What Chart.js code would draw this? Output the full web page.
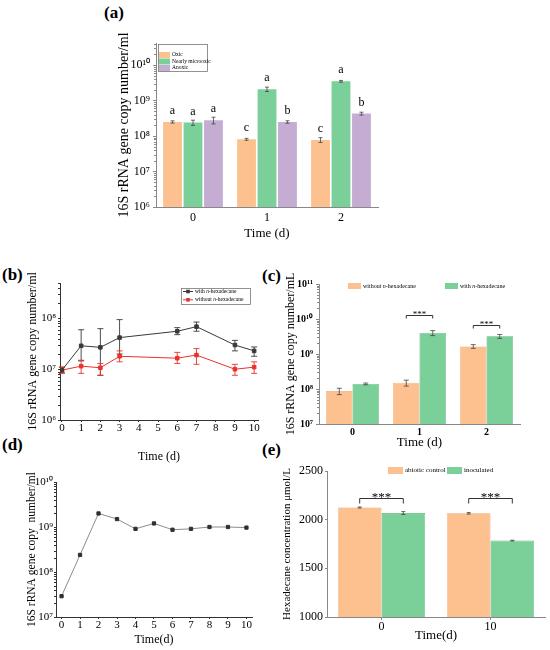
<!DOCTYPE html>
<html>
<head>
<meta charset="utf-8">
<script src="https://cdn.jsdelivr.net/npm/chart.js@4.4.1/dist/chart.umd.min.js"></script>
<style>
  body { margin: 0; background: #fff; width: 550px; height: 650px; position: relative; overflow: hidden; }
  canvas { position: absolute; }
  .lab { position: absolute; font: bold 17px 'Liberation Serif', 'Times New Roman', serif; line-height: 1; }
</style>
</head>
<body>
<div class="lab" style="left:104px;top:4px">(a)</div>
<div class="lab" style="left:2px;top:266px">(b)</div>
<div class="lab" style="left:262px;top:267px">(c)</div>
<div class="lab" style="left:2px;top:436px">(d)</div>
<div class="lab" style="left:262px;top:441px">(e)</div>

<canvas id="ca" width="300" height="220" style="left:90px;top:30px"></canvas>
<canvas id="cb" width="275" height="200" style="left:0px;top:265px"></canvas>
<canvas id="cc" width="288" height="200" style="left:262px;top:265px"></canvas>
<canvas id="cd" width="270" height="185" style="left:0px;top:465px"></canvas>
<canvas id="ce" width="288" height="190" style="left:262px;top:460px"></canvas>

<script>
// (a) 16S copies under three oxygen conditions
var aDays     = ["0", "1", "2"];
var aOxic     = [2.5e8, 8.1e7, 7.8e7];
var aOxicErr  = [1.8e7, 5e6, 1.2e7];
var aNear     = [2.4e8, 2.1e9, 3.5e9];
var aNearErr  = [4e7, 3e8, 2e8];
var aAnox     = [2.8e8, 2.5e8, 4.3e8];
var aAnoxErr  = [6e7, 2e7, 4e7];
var aLetters  = [["a", "c", "c"], ["a", "a", "a"], ["a", "b", "b"]];
var aExps     = [6, 7, 8, 9, 10];

// (b) with / without n-hexadecane, error bars as [low, high]
var bDays       = [0, 1, 2, 3, 6, 7, 9, 10];
var bWith       = [9.6e6, 2.9e7, 2.7e7, 4.2e7, 5.6e7, 6.9e7, 3.0e7, 2.3e7];
var bWithErr    = [[8.5e6, 1.1e7], [1.5e7, 6.0e7], [7.6e6, 6.3e7], [2.0e7, 9.5e7],
                   [4.8e7, 6.6e7], [5.6e7, 8.5e7], [2.3e7, 3.7e7], [1.8e7, 2.75e7]];
var bWithout    = [9.6e6, 1.15e7, 1.07e7, 1.8e7, 1.65e7, 1.9e7, 1.0e7, 1.1e7];
var bWithoutErr = [[8.3e6, 1.1e7], [8.3e6, 1.45e7], [7.6e6, 1.3e7], [1.4e7, 2.3e7],
                   [1.3e7, 2.15e7], [1.25e7, 2.55e7], [7.6e6, 1.25e7], [8.3e6, 1.4e7]];
var bTicks      = [0, 1, 2, 3, 4, 5, 6, 7, 8, 9, 10];
var bExps       = [6, 7, 8];

// (c)
var cDays       = ["0", "1", "2"];
var cWithout    = [8.7e7, 1.5e8, 1.65e9];
var cWithoutErr = [1.8e7, 2.9e7, 2e8];
var cWith       = [1.4e8, 4.0e9, 3.2e9];
var cWithErr    = [8e6, 6.5e8, 4e8];
var cSigDay     = [1, 2];
var cSigLevel   = [1.33e10, 6.9e9];
var cExps       = [7, 8, 9, 10, 11];

// (d)
var dDays   = [0, 1, 2, 3, 4, 5, 6, 7, 8, 9, 10];
var dCopies = [2.9e7, 2.4e8, 2.0e9, 1.5e9, 9.1e8, 1.2e9, 8.7e8, 9.1e8, 1.0e9, 1.0e9, 9.7e8];
var dExps   = [7, 8, 9, 10];

// (e)
var eDays       = ["0", "10"];
var eAbiotic    = [2125, 2065];
var eAbioticErr = [5, 8];
var eInoc       = [2068, 1785];
var eInocErr    = [15, 4];
var eSigDay     = [0, 1];
var eSigLevel   = [2225, 2225];
var eTicks      = [1000, 1500, 2000, 2500];

var ORANGE = "#fdc190";
var GREEN  = "#7bcf98";
var PURPLE = "#c5acd3";
var SERIF  = "'Liberation Serif', 'Times New Roman', serif";

Chart.defaults.font.family = SERIF;
Chart.defaults.color = "#000";

function f(size, weight) { return { family: SERIF, size: size, weight: weight || "normal" }; }
function sup(n) {
  var s = "⁰¹²³⁴⁵⁶⁷⁸⁹";
  return String(n).split("").map(function (c) { return s[+c]; }).join("");
}
function logLabel(v) { return "10" + sup(Math.round(Math.log10(v))); }
function plain(v) { return String(v); }
function decades(exps) {
  return function (scale) { scale.ticks = exps.map(function (e) { return { value: Math.pow(10, e) }; }); };
}
function fixed(vals) {
  return function (scale) { scale.ticks = vals.map(function (v) { return { value: v }; }); };
}
function pts(xs, ys) { return xs.map(function (x, i) { return { x: x, y: ys[i] }; }); }

// text with the "n" of n-hexadecane in italics
function richText(ctx, text, x, y, size) {
  var p = text.split(" n-");
  var segs = p.length > 1 ? [[p[0] + " ", ""], ["n", "italic "], ["-" + p[1], ""]] : [[text, ""]];
  segs.forEach(function (s) {
    ctx.font = s[1] + size + "px " + SERIF;
    ctx.fillText(s[0], x, y);
    x += ctx.measureText(s[0]).width;
  });
}

var minorTicks = {
  id: "minorTicks",
  afterDraw: function (chart, args, o) {
    if (!o.len) return;
    var y = chart.scales.y, ctx = chart.ctx;
    ctx.save();
    ctx.strokeStyle = o.color; ctx.lineWidth = 1;
    var lo = Math.floor(Math.log10(y.min)), hi = Math.ceil(Math.log10(y.max));
    for (var e = lo; e < hi; e++) {
      for (var k = 2; k < 10; k++) {
        var v = k * Math.pow(10, e);
        if (v < y.min || v > y.max) continue;
        var py = Math.round(y.getPixelForValue(v)) + 0.5;
        ctx.beginPath(); ctx.moveTo(y.right, py); ctx.lineTo(y.right - o.len, py); ctx.stroke();
      }
    }
    ctx.restore();
  }
};

function drawErr(chart, o) {
  var ctx = chart.ctx, y = chart.scales.y;
  ctx.save();
  ctx.lineWidth = o.width || 1;
  (o.sets || []).forEach(function (errs, di) {
    var meta = chart.getDatasetMeta(di), data = chart.data.datasets[di].data;
    ctx.strokeStyle = o.colors ? o.colors[di] : "#333";
    meta.data.forEach(function (el, i) {
      var v = typeof data[i] === "object" ? data[i].y : data[i];
      var e = errs[i];
      var lo = Array.isArray(e) ? e[0] : v - e, hi = Array.isArray(e) ? e[1] : v + e;
      var x = el.x, y1 = y.getPixelForValue(lo), y2 = y.getPixelForValue(hi), c = o.cap;
      ctx.beginPath();
      ctx.moveTo(x, y1); ctx.lineTo(x, y2);
      ctx.moveTo(x - c, y1); ctx.lineTo(x + c, y1);
      ctx.moveTo(x - c, y2); ctx.lineTo(x + c, y2);
      ctx.stroke();
    });
  });
  ctx.restore();
}
var errorBars = {
  id: "errorBars",
  beforeDatasetsDraw: function (chart, args, o) { if (o.behind) drawErr(chart, o); },
  afterDatasetsDraw: function (chart, args, o) { if (!o.behind) drawErr(chart, o); }
};

var barLetters = {
  id: "barLetters",
  afterDatasetsDraw: function (chart, args, o) {
    if (!o.letters) return;
    var ctx = chart.ctx, y = chart.scales.y;
    ctx.save();
    ctx.font = o.size + "px " + SERIF; ctx.fillStyle = "#000";
    ctx.textAlign = "center"; ctx.textBaseline = "middle";
    o.letters.forEach(function (row, di) {
      var meta = chart.getDatasetMeta(di), data = chart.data.datasets[di].data;
      meta.data.forEach(function (el, i) {
        ctx.fillText(row[i], el.x, y.getPixelForValue(data[i]) - o.gap);
      });
    });
    ctx.restore();
  }
};

var sigBrackets = {
  id: "sigBrackets",
  afterDatasetsDraw: function (chart, args, o) {
    if (!o.days) return;
    var ctx = chart.ctx, y = chart.scales.y;
    ctx.save();
    ctx.strokeStyle = "#333"; ctx.lineWidth = 1; ctx.fillStyle = "#000";
    ctx.textAlign = "center"; ctx.textBaseline = "alphabetic";
    ctx.font = o.size + "px " + SERIF;
    o.days.forEach(function (d, k) {
      var a = chart.getDatasetMeta(0).data[d], b = chart.getDatasetMeta(1).data[d];
      var py = Math.round(y.getPixelForValue(o.levels[k])) + 0.5;
      ctx.beginPath();
      ctx.moveTo(a.x, py + o.leg); ctx.lineTo(a.x, py); ctx.lineTo(b.x, py); ctx.lineTo(b.x, py + o.leg);
      ctx.stroke();
      ctx.fillText("***", (a.x + b.x) / 2, py + o.lift);
    });
    ctx.restore();
  }
};

var boxLegend = {
  id: "boxLegend",
  afterDraw: function (chart, args, o) {
    if (o.x === undefined) return;
    var ctx = chart.ctx;
    ctx.save();
    if (o.frame) {
      ctx.fillStyle = "#fff"; ctx.strokeStyle = "#777"; ctx.lineWidth = 0.8;
      ctx.fillRect(o.frame[0], o.frame[1], o.frame[2], o.frame[3]);
      ctx.strokeRect(o.frame[0] + 0.5, o.frame[1] + 0.5, o.frame[2], o.frame[3]);
    }
    ctx.textBaseline = "middle";
    chart.data.datasets.forEach(function (ds, i) {
      var ix = o.x + (o.dx || 0) * i, iy = o.y + (o.dy || 0) * i;
      if (o.kind === "line") {
        ctx.strokeStyle = ds.borderColor; ctx.lineWidth = 1;
        ctx.beginPath(); ctx.moveTo(ix, iy); ctx.lineTo(ix + o.w, iy); ctx.stroke();
        ctx.fillStyle = ds.borderColor;
        ctx.fillRect(ix + o.w / 2 - 1.8, iy - 1.8, 3.6, 3.6);
      } else {
        ctx.fillStyle = ds.backgroundColor;
        ctx.fillRect(ix, iy - o.h / 2, o.w, o.h);
      }
      ctx.fillStyle = "#000";
      richText(ctx, ds.label, ix + o.w + o.gap, iy, o.size);
    });
    ctx.restore();
  }
};

Chart.register(minorTicks, errorBars, barLetters, sigBrackets, boxLegend);

function baseOpts(pad) {
  return {
    responsive: false, animation: false, events: [],
    layout: { padding: pad },
    plugins: { legend: { display: false }, tooltip: { enabled: false } }
  };
}

// ---------- (a)
var oa = baseOpts({ left: 0, top: 13, right: 12, bottom: 0 });
oa.datasets = { bar: { categoryPercentage: 0.83, barPercentage: 0.92 } };
oa.scales = {
  x: {
    grid: { drawOnChartArea: false, drawTicks: false, color: "#888" },
    border: { color: "#888" },
    ticks: { font: f(12), padding: 4 },
    title: { display: true, text: "Time (d)", font: f(13), padding: { top: 0, bottom: 9 } },
    afterFit: function (s) { s.height = 43; }
  },
  y: {
    type: "logarithmic", min: 1e6, max: 4.2e10,
    afterBuildTicks: decades(aExps),
    ticks: { callback: logLabel, font: f(12), padding: 3 },
    grid: { drawOnChartArea: false, tickLength: 3, color: "#888" },
    border: { color: "#888" },
    title: { display: true, text: "16S rRNA gene copy number/ml", font: f(14), padding: { top: 26, bottom: 0 } },
    afterFit: function (s) { s.width = 66; }
  }
};
oa.plugins.minorTicks = { len: 2, color: "#888" };
oa.plugins.errorBars = { sets: [aOxicErr, aNearErr, aAnoxErr], cap: 2, width: 0.8, colors: ["#444", "#444", "#444"] };
oa.plugins.barLetters = { letters: aLetters, size: 12, gap: 11 };
oa.plugins.boxLegend = { x: 69, y: 25, dy: 6.5, w: 11, h: 6, gap: 2, size: 5.5, frame: [68, 14, 49, 27] };

new Chart(document.getElementById("ca"), {
  type: "bar",
  data: {
    labels: aDays,
    datasets: [
      { label: "Oxic", data: aOxic, backgroundColor: ORANGE },
      { label: "Nearly microoxic", data: aNear, backgroundColor: GREEN },
      { label: "Anoxic", data: aAnox, backgroundColor: PURPLE }
    ]
  },
  options: oa
});

// ---------- (b)
var ob = baseOpts({ left: 0, top: 18, right: 17, bottom: 0 });
ob.scales = {
  x: {
    type: "linear", min: -0.1, max: 10.2,
    afterBuildTicks: fixed(bTicks),
    grid: { drawOnChartArea: false, tickLength: 2, color: "#333" },
    border: { color: "#333" },
    ticks: { callback: plain, font: f(11), padding: 0 },
    title: { display: true, text: "Time (d)", font: f(12), padding: { top: 0, bottom: 1 } },
    afterFit: function (s) { s.height = 45; }
  },
  y: {
    type: "logarithmic", min: 1e6, max: 5e8,
    afterBuildTicks: decades(bExps),
    ticks: { callback: logLabel, font: f(11), padding: 2 },
    grid: { drawOnChartArea: false, tickLength: 2, color: "#333" },
    border: { color: "#333" },
    title: { display: true, text: "16S rRNA gene copy number/ml", font: f(12), padding: { top: 26, bottom: 0 } },
    afterFit: function (s) { s.width = 60; }
  }
};
ob.plugins.minorTicks = { len: 2, color: "#333" };
ob.plugins.errorBars = { sets: [bWithErr, bWithoutErr], cap: 3, width: 0.9, colors: ["#3a3a3a", "#e8332d"], behind: true };
ob.plugins.boxLegend = { kind: "line", x: 183, y: 26.5, dy: 8.3, w: 10, gap: 2, size: 5.5, frame: [181, 23, 69, 16] };

new Chart(document.getElementById("cb"), {
  type: "line",
  data: {
    datasets: [
      { label: "with n-hexadecane", data: pts(bDays, bWith), borderColor: "#3a3a3a", backgroundColor: "#3a3a3a",
        borderWidth: 1, pointStyle: "rect", pointRadius: 2.5 },
      { label: "without n-hexadecane", data: pts(bDays, bWithout), borderColor: "#e8332d", backgroundColor: "#e8332d",
        borderWidth: 1, pointStyle: "rect", pointRadius: 2.5 }
    ]
  },
  options: ob
});

// ---------- (c)
var oc = baseOpts({ left: 0, top: 19, right: 30, bottom: 0 });
oc.datasets = { bar: { categoryPercentage: 0.79, barPercentage: 1 } };
oc.scales = {
  x: {
    grid: { drawOnChartArea: false, drawTicks: false, color: "#888" },
    border: { color: "#888" },
    ticks: { font: f(10, "bold"), padding: 2 },
    title: { display: true, text: "Time (d)", font: f(13), padding: { top: 0, bottom: 15 } },
    afterFit: function (s) { s.height = 41; }
  },
  y: {
    type: "logarithmic", min: 1e7, max: 1e11,
    afterBuildTicks: decades(cExps),
    ticks: { callback: logLabel, font: f(10, "bold"), padding: 3 },
    grid: { drawOnChartArea: false, tickLength: 3, color: "#888" },
    border: { color: "#888" },
    title: { display: true, text: "16S rRNA gene copy number/mL", font: f(12), padding: { top: 22, bottom: 0 } },
    afterFit: function (s) { s.width = 57; }
  }
};
oc.plugins.minorTicks = { len: 2, color: "#888" };
oc.plugins.errorBars = { sets: [cWithoutErr, cWithErr], cap: 2.5, width: 0.8, colors: ["#444", "#444"] };
oc.plugins.sigBrackets = { days: cSigDay, levels: cSigLevel, leg: 3, lift: 1, size: 9 };
oc.plugins.boxLegend = { x: 86, y: 21, dx: 97, w: 13, h: 6, gap: 2, size: 6 };

new Chart(document.getElementById("cc"), {
  type: "bar",
  data: {
    labels: cDays,
    datasets: [
      { label: "without n-hexadecane", data: cWithout, backgroundColor: ORANGE, borderColor: "#e8a878", borderWidth: 0.6 },
      { label: "with n-hexadecane", data: cWith, backgroundColor: GREEN, borderColor: "#5fb07c", borderWidth: 0.6 }
    ]
  },
  options: oc
});

// ---------- (d)
var od = baseOpts({ left: 0, top: 17, right: 18, bottom: 0 });
od.scales = {
  x: {
    type: "linear", min: -0.3, max: 10.3,
    afterBuildTicks: fixed(bTicks),
    grid: { drawOnChartArea: false, tickLength: 2, color: "#333" },
    border: { color: "#333" },
    ticks: { callback: plain, font: f(11), padding: 0 },
    title: { display: true, text: "Time(d)", font: f(12), padding: { top: 0, bottom: 3 } },
    afterFit: function (s) { s.height = 33; }
  },
  y: {
    type: "logarithmic", min: 1e7, max: 1e10,
    afterBuildTicks: decades(dExps),
    ticks: { callback: logLabel, font: f(11), padding: 1 },
    grid: { drawOnChartArea: false, tickLength: 2, color: "#333" },
    border: { color: "#333" },
    title: { display: true, text: "16S rRNA gene copy  number/ml", font: f(11.5), padding: { top: 25, bottom: 0 } },
    afterFit: function (s) { s.width = 56; }
  }
};
od.plugins.minorTicks = { len: 2, color: "#333" };

new Chart(document.getElementById("cd"), {
  type: "line",
  data: {
    datasets: [
      { label: "copies", data: pts(dDays, dCopies), borderColor: "#8c8c8c", borderWidth: 1,
        pointStyle: "rect", pointRadius: 2.3, pointBackgroundColor: "#2f2f2f", pointBorderColor: "#2f2f2f" }
    ]
  },
  options: od
});

// ---------- (e)
var oe = baseOpts({ left: 0, top: 11, right: 5, bottom: 0 });
oe.datasets = { bar: { categoryPercentage: 0.8, barPercentage: 1 } };
oe.scales = {
  x: {
    grid: { drawOnChartArea: false, offset: false, tickLength: 3, color: "#888" },
    border: { color: "#888" },
    ticks: { font: f(12), padding: 0 },
    title: { display: true, text: "Time(d)", font: f(13), padding: { top: 0, bottom: 7 } },
    afterFit: function (s) { s.height = 33; }
  },
  y: {
    min: 1000, max: 2500,
    afterBuildTicks: fixed(eTicks),
    ticks: { callback: plain, font: f(12), padding: 2 },
    grid: { drawOnChartArea: false, tickLength: 2, color: "#888" },
    border: { color: "#888" },
    title: { display: true, text: "Hexadecane concentration μmol/L", font: f(11), padding: { top: 19, bottom: 0 } },
    afterFit: function (s) { s.width = 65; }
  }
};
oe.plugins.errorBars = { sets: [eAbioticErr, eInocErr], cap: 2, width: 0.8, colors: ["#444", "#444"] };
oe.plugins.sigBrackets = { days: eSigDay, levels: eSigLevel, leg: 5, lift: 2, size: 13 };
oe.plugins.boxLegend = { x: 126, y: 10.5, dx: 59, w: 15, h: 7, gap: 2, size: 7 };

new Chart(document.getElementById("ce"), {
  type: "bar",
  data: {
    labels: eDays,
    datasets: [
      { label: "abiotic control", data: eAbiotic, backgroundColor: ORANGE, borderColor: "#e8a878", borderWidth: 0.6 },
      { label: "inoculated", data: eInoc, backgroundColor: GREEN, borderColor: "#5fb07c", borderWidth: 0.6 }
    ]
  },
  options: oe
});
</script>
</body>
</html>
